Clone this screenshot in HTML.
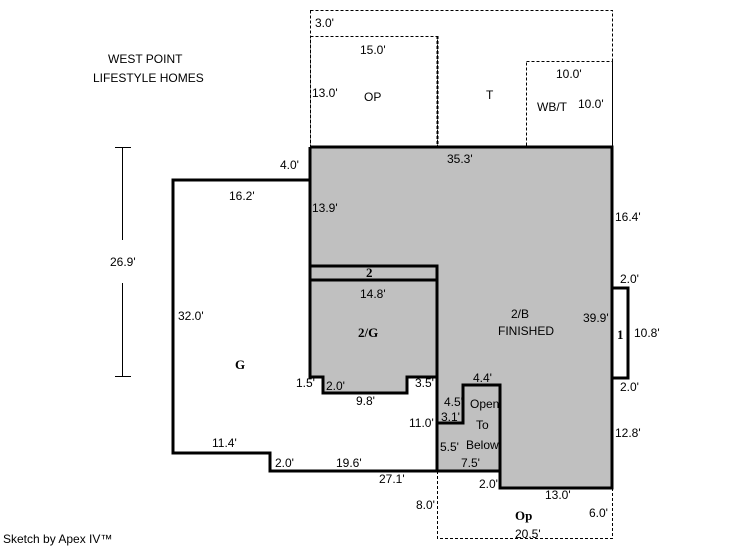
<!DOCTYPE html>
<html><head><meta charset="utf-8"><style>
html,body{margin:0;padding:0;background:#fff;}
svg{display:block;}
text{font-family:"Liberation Sans",Arial,sans-serif;font-size:12px;fill:#000;}
.b{font-family:"Liberation Serif",serif;font-weight:bold;font-size:13px;}
</style></head><body>
<svg width="746" height="547" viewBox="0 0 746 547" xmlns="http://www.w3.org/2000/svg">
<g fill="none" stroke="#000" stroke-width="1" stroke-dasharray="3,2">
<rect x="310.5" y="10.5" width="302" height="137"/>
<rect x="310.5" y="36.5" width="127" height="111"/>
<rect x="526.5" y="61.5" width="86" height="86"/>
<polyline points="437.5,471 437.5,538.5 612.5,538.5 612.5,488"/>
</g>
<line x1="437.5" y1="36" x2="437.5" y2="147" stroke="#000" stroke-width="2" stroke-dasharray="3,2"/>
<polygon points="310,147 612,147 612,488 500,488 500,471 437,471 437,377 310,377" fill="#c0c0c0"/>
<polygon points="323,377 407,377 407,393 323,393" fill="#c0c0c0"/>
<g fill="none" stroke="#000" stroke-width="3" stroke-linejoin="miter">
<polyline points="310,147 612,147 612,488 500,488 500,385 463,385 463,423 437,423"/>
<polyline points="310,147 310,377 323,377 323,393 407,393 407,377 437,377 437,266 310,266"/>
<line x1="310" y1="280" x2="437" y2="280"/>
<line x1="437" y1="377" x2="437" y2="471"/>
<polyline points="310,180 173,180 173,453 270,453 270,471 500,471"/>
<polyline points="612,288 628,288 628,378 612,378"/>
</g>
<g stroke="#000" stroke-width="1">
<line x1="122.5" y1="147" x2="122.5" y2="240"/>
<line x1="122.5" y1="283" x2="122.5" y2="377"/>
<line x1="115" y1="147.5" x2="131" y2="147.5"/>
<line x1="115" y1="376.5" x2="131" y2="376.5"/>
</g>
<text x="108" y="63" font-size="14">WEST POINT</text>
<text x="93" y="82" font-size="14">LIFESTYLE HOMES</text>
<text x="110" y="266">26.9'</text>
<text x="315" y="27">3.0'</text>
<text x="360" y="54">15.0'</text>
<text x="312" y="97">13.0'</text>
<text x="364" y="101" font-size="13">OP</text>
<text x="486" y="99" font-size="13">T</text>
<text x="556" y="78">10.0'</text>
<text x="537" y="111" font-size="13">WB/T</text>
<text x="578" y="108">10.0'</text>
<text x="447" y="163" font-size="10">35.3'</text>
<text x="280" y="169">4.0'</text>
<text x="229" y="200">16.2'</text>
<text x="312" y="212">13.9'</text>
<text x="615" y="221">16.4'</text>
<text class="b" x="366" y="277">2</text>
<text x="360" y="298">14.8'</text>
<text class="b" x="358" y="337">2/G</text>
<text x="511" y="318" font-size="13">2/B</text>
<text x="498" y="335" font-size="13">FINISHED</text>
<text x="583" y="322">39.9'</text>
<text x="620" y="283">2.0'</text>
<text class="b" x="617" y="339">1</text>
<text x="634" y="337">10.8'</text>
<text x="620" y="391">2.0'</text>
<text x="178" y="320">32.0'</text>
<text class="b" x="235" y="369">G</text>
<text x="296" y="387">1.5'</text>
<text x="326" y="390">2.0'</text>
<text x="415" y="387">3.5'</text>
<text x="356" y="405">9.8'</text>
<text x="473" y="382">4.4'</text>
<text x="444" y="406">4.5'</text>
<text x="470" y="408" font-size="10">Open</text>
<text x="441" y="421">3.1'</text>
<text x="476" y="429" font-size="10">To</text>
<text x="409" y="427">11.0'</text>
<text x="440" y="451">5.5'</text>
<text x="466" y="449" font-size="10">Below</text>
<text x="615" y="437">12.8'</text>
<text x="212" y="447">11.4'</text>
<text x="275" y="467">2.0'</text>
<text x="336" y="467">19.6'</text>
<text x="461" y="467">7.5'</text>
<text x="379" y="483">27.1'</text>
<text x="479" y="488">2.0'</text>
<text x="545" y="499">13.0'</text>
<text x="416" y="509">8.0'</text>
<text class="b" x="515" y="520">Op</text>
<text x="589" y="517">6.0'</text>
<text x="515" y="538">20.5'</text>
<text x="3" y="543" font-size="8">Sketch by Apex IV™</text>
</svg>
</body></html>
